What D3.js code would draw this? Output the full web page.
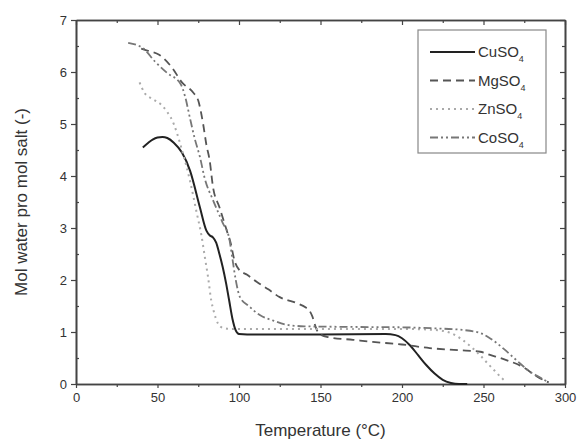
<!DOCTYPE html>
<html>
<head>
<meta charset="utf-8">
<script src="https://cdn.jsdelivr.net/npm/d3@7"></script>
<style>
  body { margin: 0; background: #fff; }
  text { font-family: "Liberation Sans", Arial, sans-serif; fill: #333; }
</style>
</head>
<body>
<svg id="chart" width="579" height="440"></svg>
<script>
// Werte (Temperatur °C, Mol Wasser pro Mol Salz)
const cuso4 = [[41,4.55],[44,4.63],[47,4.7],[50,4.74],[53,4.75],[56,4.73],[60,4.64],[65,4.45],[70,4.1],[76,3.4],[80,2.95],[82,2.86],[84,2.82],[86,2.72],[88,2.5],[90,2.25],[92,1.95],[94,1.6],[96,1.25],[98,1.03],[100,0.96],[110,0.95],[150,0.95],[190,0.96],[196,0.94],[200,0.88],[205,0.74],[210,0.55],[215,0.36],[220,0.2],[225,0.08],[230,0.02],[235,0],[240,0]];
const mgso4 = [[40,6.45],[45,6.4],[51,6.33],[59,6.08],[65,5.8],[72,5.6],[75,5.45],[78,5.0],[80,4.6],[82,4.3],[84,3.8],[88,3.4],[91,3.1],[93,2.9],[95,2.7],[97,2.4],[100,2.2],[105,2.1],[111,1.96],[118,1.82],[125,1.67],[135,1.56],[141,1.47],[143,1.42],[145,1.3],[147,1.1],[149,0.97],[155,0.9],[170,0.85],[182,0.81],[200,0.76],[217,0.69],[235,0.65],[248,0.62],[254,0.56],[264,0.46],[274,0.33],[283,0.14],[290,0.03]];
const znso4 = [[39,5.8],[42,5.6],[47,5.48],[53,5.35],[56,5.23],[60,5.0],[62,4.82],[65,4.5],[70,3.9],[74,3.3],[77,2.85],[79,2.45],[81,2.06],[83,1.6],[84.5,1.4],[87,1.17],[90,1.08],[95,1.06],[150,1.06],[200,1.06],[220,1.04],[230,0.98],[237,0.85],[243,0.7],[248,0.55],[253,0.38],[257,0.25],[261,0.12],[264,0.04]];
const coso4 = [[32,6.56],[41,6.46],[48.5,6.2],[56,5.98],[64,5.78],[67,5.52],[70,5.1],[73,4.7],[76,4.37],[79,3.95],[84,3.54],[90,3.1],[94,2.8],[96,2.4],[98,2.0],[100.6,1.67],[106,1.5],[113,1.32],[121,1.22],[131,1.13],[140,1.11],[160,1.1],[200,1.09],[220,1.07],[237,1.04],[248,0.98],[253,0.9],[258,0.79],[263,0.66],[268,0.52],[273,0.38],[277,0.27],[285,0.12],[290,0.03]];

const seriesNames = ["CuSO", "MgSO", "ZnSO", "CoSO"];
const xTicks = [0, 50, 100, 150, 200, 250, 300];
const yTicks = [0, 1, 2, 3, 4, 5, 6, 7];

// Linienstile
const styles = [
    {data: cuso4, color: "#222", width: 2,   dash: null},
    {data: mgso4, color: "#555", width: 1.8, dash: "8,5"},
    {data: znso4, color: "#aaa", width: 2,   dash: "2,4"},
    {data: coso4, color: "#777", width: 1.8, dash: "8,3,2,3,2,3"}
];

const margin = {left: 76, right: 14, top: 20, bottom: 56};
const width = 579, height = 440;

const svg = d3.select("#chart");

const x = d3.scaleLinear().domain([0, 300]).range([margin.left, width - margin.right]);
const y = d3.scaleLinear().domain([0, 7]).range([height - margin.bottom, margin.top]);

const axisColor = "#444";
const fmt = d3.format("d");

// Achsen (unten/links mit Beschriftung, oben/rechts gespiegelt)
function drawAxis(axis, tx, ty, labels) {
    const g = svg.append("g").attr("transform", `translate(${tx},${ty})`).call(axis.tickFormat(fmt));
    g.select(".domain").attr("stroke", axisColor).attr("stroke-width", 1.6);
    g.selectAll(".tick line").attr("stroke", axisColor).attr("stroke-width", 1.2);
    g.selectAll(".tick text").style("font-size", "13px").attr("fill", "#333");
    if (!labels) g.selectAll(".tick text").remove();
    return g;
}

const xMinor = d3.range(25, 300, 50);
const yMinor = d3.range(0.5, 7, 1);

// kleine Ticks
drawAxis(d3.axisBottom(x).tickValues(xMinor).tickSize(3).tickSizeOuter(0), 0, y(0), false);
drawAxis(d3.axisTop(x).tickValues(xMinor).tickSize(-3).tickSizeOuter(0), 0, y(7), false);
drawAxis(d3.axisLeft(y).tickValues(yMinor).tickSize(-3).tickSizeOuter(0), x(0), 0, false);
drawAxis(d3.axisRight(y).tickValues(yMinor).tickSize(-3).tickSizeOuter(0), x(300), 0, false);

// Haupt-Ticks
drawAxis(d3.axisBottom(x).tickValues(xTicks).tickSize(4).tickSizeOuter(0).tickPadding(5), 0, y(0), true);
drawAxis(d3.axisTop(x).tickValues(xTicks).tickSize(-5).tickSizeOuter(0), 0, y(7), false);
drawAxis(d3.axisLeft(y).tickValues(yTicks).tickSize(5).tickSizeOuter(0).tickPadding(4), x(0), 0, true);
drawAxis(d3.axisRight(y).tickValues(yTicks).tickSize(-5).tickSizeOuter(0), x(300), 0, false);

// Kurven
const line = d3.line()
    .x(d => x(d[0]))
    .y(d => y(d[1]))
    .curve(d3.curveMonotoneX);

styles.forEach(s => {
    svg.append("path")
        .datum(s.data)
        .attr("d", line)
        .attr("fill", "none")
        .attr("stroke", s.color)
        .attr("stroke-width", s.width)
        .attr("stroke-dasharray", s.dash);
});

// Achsentitel
svg.append("text")
    .attr("x", (x(0) + x(300)) / 2)
    .attr("y", 436)
    .attr("text-anchor", "middle")
    .style("font-size", "17px")
    .text("Temperature (°C)");

svg.append("text")
    .attr("transform", `translate(27,${(y(0) + y(7)) / 2}) rotate(-90)`)
    .attr("text-anchor", "middle")
    .style("font-size", "17px")
    .text("Mol water pro mol salt (-)");

// Legende
const legend = svg.append("g").attr("transform", "translate(418,30)");
legend.append("rect")
    .attr("width", 128).attr("height", 123)
    .attr("fill", "#fff")
    .attr("stroke", "#888").attr("stroke-width", 1.2);

styles.forEach((s, i) => {
    const ly = 22 + i * 28.5;
    legend.append("line")
        .attr("x1", 12).attr("x2", 57)
        .attr("y1", ly).attr("y2", ly)
        .attr("stroke", s.color)
        .attr("stroke-width", s.width)
        .attr("stroke-dasharray", s.dash);
    const t = legend.append("text")
        .attr("x", 60).attr("y", ly + 5)
        .style("font-size", "15px");
    t.append("tspan").text(seriesNames[i]);
    t.append("tspan").attr("dy", 5).style("font-size", "9px").text("4");
});
</script>
</body>
</html>
